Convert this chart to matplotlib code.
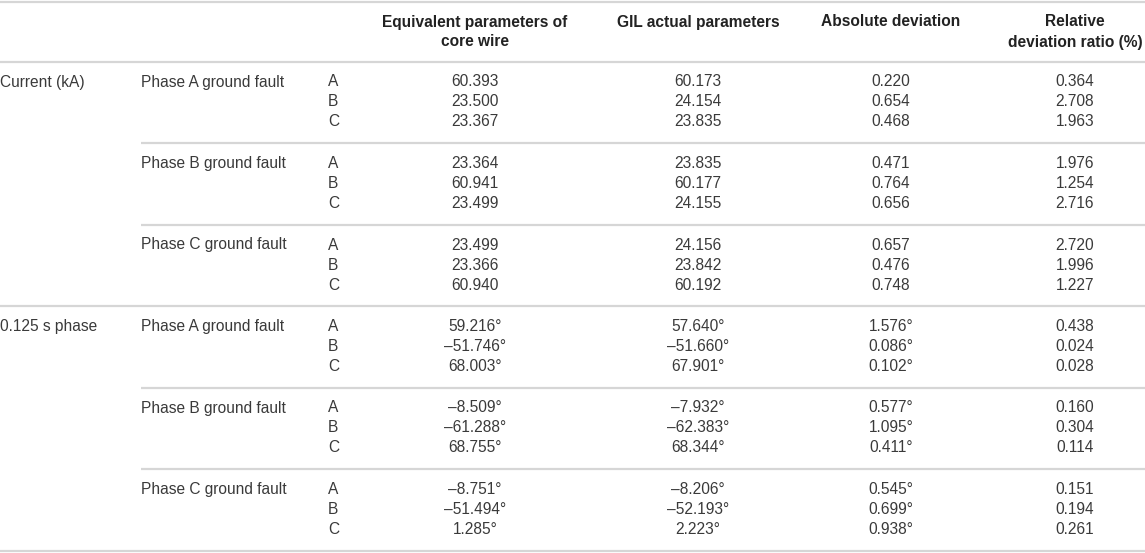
import matplotlib
matplotlib.use("Agg")
from matplotlib import pyplot as plt

# table content
headers = ["Equivalent parameters of\ncore wire", "GIL actual parameters",
           "Absolute deviation", "Relative\ndeviation ratio (%)"]
quantities = ["Current (kA)", "0.125 s phase"]
faults = ["Phase A ground fault", "Phase B ground fault", "Phase C ground fault"]
phases = ["A", "B", "C"]

# current (kA), 9 rows per column
cur_equiv = [60.393, 23.500, 23.367, 23.364, 60.941, 23.499, 23.499, 23.366, 60.940]
cur_actual = [60.173, 24.154, 23.835, 23.835, 60.177, 24.155, 24.156, 23.842, 60.192]
cur_abs = [0.220, 0.654, 0.468, 0.471, 0.764, 0.656, 0.657, 0.476, 0.748]
cur_rel = [0.364, 2.708, 1.963, 1.976, 1.254, 2.716, 2.720, 1.996, 1.227]

# 0.125 s phase (degrees)
ph_equiv = [59.216, -51.746, 68.003, -8.509, -61.288, 68.755, -8.751, -51.494, 1.285]
ph_actual = [57.640, -51.660, 67.901, -7.932, -62.383, 68.344, -8.206, -52.193, 2.223]
ph_abs = [1.576, 0.086, 0.102, 0.577, 1.095, 0.411, 0.545, 0.699, 0.938]
ph_rel = [0.438, 0.024, 0.028, 0.160, 0.304, 0.114, 0.151, 0.194, 0.261]

W, H = 1145, 553
fig = plt.figure(figsize=(W / 100, H / 100), dpi=100)
ax = fig.add_axes([0, 0, 1, 1])
ax.set_xlim(0, W)
ax.set_ylim(H, 0)
ax.axis("off")

fs = 11.2
txt_color = "#3a3a3a"
line_color = "#d6d6d6"
font = "Liberation Sans"

col_x = [475, 698, 891, 1075]
header_line = 61.5
group_h = 81.5
row_h = 20


def fmt(v, deg):
    s = f"{v:.3f}".replace("-", "\u2013")
    return s + "\u00b0" if deg else s


def hline(x0, y):
    ax.plot([x0, W], [y, y], color=line_color, lw=1.6, solid_capstyle="butt")


# header
hline(0, 1.5)
for x, h in zip(col_x, headers):
    for i, ln in enumerate(h.split("\n")):
        ax.text(x, 22 + i * 20, ln, ha="center", va="center", fontsize=fs,
                fontweight="bold", color="#222222", family=font)
hline(0, header_line)

data = [(cur_equiv, cur_actual, cur_abs, cur_rel, False),
        (ph_equiv, ph_actual, ph_abs, ph_rel, True)]

for q, (eq, ac, ab, rl, deg) in enumerate(data):
    for f in range(len(faults)):
        g = q * 3 + f
        top = header_line + g * group_h
        y0 = top + 20.5
        if f == 0:
            ax.text(0, y0, quantities[q], ha="left", va="center", fontsize=fs,
                    color=txt_color, family=font)
        ax.text(141, y0, faults[f], ha="left", va="center", fontsize=fs,
                color=txt_color, family=font)
        for r in range(3):
            k = f * 3 + r
            y = y0 + r * row_h
            ax.text(328, y, phases[r], ha="left", va="center", fontsize=fs,
                    color=txt_color, family=font)
            vals = [fmt(eq[k], deg), fmt(ac[k], deg), fmt(ab[k], deg), fmt(rl[k], False)]
            for x, s in zip(col_x, vals):
                ax.text(x, y, s, ha="center", va="center", fontsize=fs,
                        color=txt_color, family=font)
        # full rule after each quantity block, partial rule between faults
        hline(0 if f == 2 else 141, top + group_h)

fig.savefig("out.png", dpi=100)
